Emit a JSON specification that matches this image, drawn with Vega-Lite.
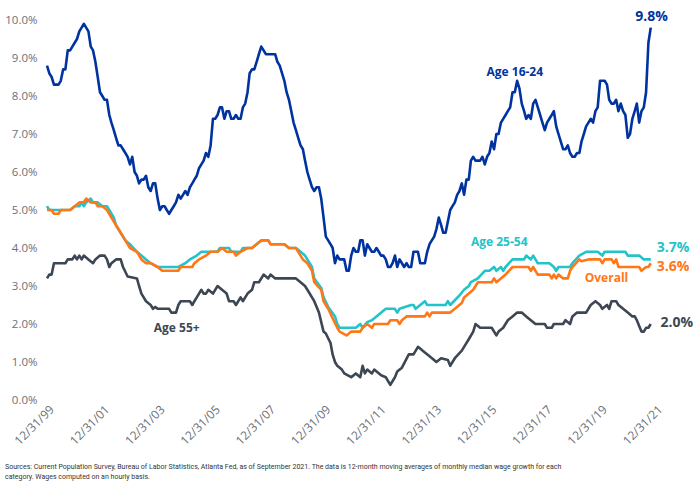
{
  "$schema": "https://vega.github.io/schema/vega-lite/v6.json",
  "width": 613,
  "height": 380,
  "autosize": {"type": "none"},
  "padding": {"left": 47, "top": 20, "right": 40, "bottom": 96},
  "background": "white",
  "config": {"view": {"stroke": null}, "font": "Open Sans"},
  "title": {
    "text": ["Sources: Current Population Survey, Bureau of Labor Statistics, Atlanta Fed, as of September 2021. The data is 12-month moving averages of monthly median wage growth for each", "category. Wages computed on an hourly basis."],
    "orient": "bottom",
    "anchor": "start",
    "frame": "group",
    "font": "Roboto",
    "fontSize": 7,
    "fontWeight": "normal",
    "color": "#333333",
    "lineHeight": 10,
    "dx": -42,
    "offset": 16
  },
  "datasets": {
    "series": [
      {"series":"Age 16-24","date":"1999-11-01","value":8.8},{"series":"Age 16-24","date":"1999-12-01","value":8.6},{"series":"Age 16-24","date":"2000-01-01","value":8.5},{"series":"Age 16-24","date":"2000-02-01","value":8.3},{"series":"Age 16-24","date":"2000-04-01","value":8.3},{"series":"Age 16-24","date":"2000-05-01","value":8.4},{"series":"Age 16-24","date":"2000-06-01","value":8.7},{"series":"Age 16-24","date":"2000-07-01","value":8.7},{"series":"Age 16-24","date":"2000-08-01","value":9.2},{"series":"Age 16-24","date":"2000-09-01","value":9.2},{"series":"Age 16-24","date":"2000-10-01","value":9.3},{"series":"Age 16-24","date":"2000-11-01","value":9.4},{"series":"Age 16-24","date":"2000-12-01","value":9.5},
      {"series":"Age 16-24","date":"2001-01-01","value":9.7},{"series":"Age 16-24","date":"2001-03-01","value":9.9},{"series":"Age 16-24","date":"2001-04-01","value":9.8},{"series":"Age 16-24","date":"2001-05-01","value":9.7},{"series":"Age 16-24","date":"2001-06-01","value":9.3},{"series":"Age 16-24","date":"2001-07-01","value":9.2},{"series":"Age 16-24","date":"2001-08-01","value":8.9},{"series":"Age 16-24","date":"2001-09-01","value":8.5},{"series":"Age 16-24","date":"2001-10-01","value":8.1},{"series":"Age 16-24","date":"2001-11-01","value":8.0},{"series":"Age 16-24","date":"2001-12-01","value":7.9},
      {"series":"Age 16-24","date":"2002-01-01","value":7.9},{"series":"Age 16-24","date":"2002-02-01","value":7.5},{"series":"Age 16-24","date":"2002-03-01","value":7.3},{"series":"Age 16-24","date":"2002-04-01","value":7.1},{"series":"Age 16-24","date":"2002-05-01","value":6.9},{"series":"Age 16-24","date":"2002-06-01","value":6.7},{"series":"Age 16-24","date":"2002-07-01","value":6.7},{"series":"Age 16-24","date":"2002-08-01","value":6.6},{"series":"Age 16-24","date":"2002-09-01","value":6.5},{"series":"Age 16-24","date":"2002-10-01","value":6.4},{"series":"Age 16-24","date":"2002-11-01","value":6.2},{"series":"Age 16-24","date":"2002-12-01","value":6.4},
      {"series":"Age 16-24","date":"2003-01-01","value":6.0},{"series":"Age 16-24","date":"2003-02-01","value":5.9},{"series":"Age 16-24","date":"2003-03-01","value":5.7},{"series":"Age 16-24","date":"2003-04-01","value":5.8},{"series":"Age 16-24","date":"2003-05-01","value":5.8},{"series":"Age 16-24","date":"2003-06-01","value":5.9},{"series":"Age 16-24","date":"2003-07-01","value":5.6},{"series":"Age 16-24","date":"2003-08-01","value":5.5},{"series":"Age 16-24","date":"2003-09-01","value":5.7},{"series":"Age 16-24","date":"2003-10-01","value":5.7},{"series":"Age 16-24","date":"2003-11-01","value":5.3},{"series":"Age 16-24","date":"2003-12-01","value":5.0},
      {"series":"Age 16-24","date":"2004-01-01","value":5.1},{"series":"Age 16-24","date":"2004-02-01","value":5.1},{"series":"Age 16-24","date":"2004-03-01","value":5.0},{"series":"Age 16-24","date":"2004-04-01","value":4.9},{"series":"Age 16-24","date":"2004-05-01","value":5.0},{"series":"Age 16-24","date":"2004-06-01","value":5.1},{"series":"Age 16-24","date":"2004-07-01","value":5.2},{"series":"Age 16-24","date":"2004-08-01","value":5.4},{"series":"Age 16-24","date":"2004-09-01","value":5.3},{"series":"Age 16-24","date":"2004-10-01","value":5.4},{"series":"Age 16-24","date":"2004-11-01","value":5.5},{"series":"Age 16-24","date":"2004-12-01","value":5.4},
      {"series":"Age 16-24","date":"2005-01-01","value":5.6},{"series":"Age 16-24","date":"2005-02-01","value":5.7},{"series":"Age 16-24","date":"2005-03-01","value":5.8},{"series":"Age 16-24","date":"2005-04-01","value":5.9},{"series":"Age 16-24","date":"2005-05-01","value":6.1},{"series":"Age 16-24","date":"2005-06-01","value":6.2},{"series":"Age 16-24","date":"2005-07-01","value":6.3},{"series":"Age 16-24","date":"2005-08-01","value":6.5},{"series":"Age 16-24","date":"2005-09-01","value":6.4},{"series":"Age 16-24","date":"2005-10-01","value":6.7},{"series":"Age 16-24","date":"2005-11-01","value":7.4},{"series":"Age 16-24","date":"2005-12-01","value":7.4},
      {"series":"Age 16-24","date":"2006-01-01","value":7.5},{"series":"Age 16-24","date":"2006-02-01","value":7.7},{"series":"Age 16-24","date":"2006-03-01","value":7.7},{"series":"Age 16-24","date":"2006-04-01","value":7.4},{"series":"Age 16-24","date":"2006-05-01","value":7.6},{"series":"Age 16-24","date":"2006-06-01","value":7.6},{"series":"Age 16-24","date":"2006-07-01","value":7.4},{"series":"Age 16-24","date":"2006-08-01","value":7.4},{"series":"Age 16-24","date":"2006-09-01","value":7.5},{"series":"Age 16-24","date":"2006-10-01","value":7.4},{"series":"Age 16-24","date":"2006-11-01","value":7.4},{"series":"Age 16-24","date":"2006-12-01","value":7.7},
      {"series":"Age 16-24","date":"2007-01-01","value":7.8},{"series":"Age 16-24","date":"2007-02-01","value":8.1},{"series":"Age 16-24","date":"2007-03-01","value":8.6},{"series":"Age 16-24","date":"2007-04-01","value":8.7},{"series":"Age 16-24","date":"2007-05-01","value":8.7},{"series":"Age 16-24","date":"2007-06-01","value":8.9},{"series":"Age 16-24","date":"2007-07-01","value":9.1},{"series":"Age 16-24","date":"2007-08-01","value":9.3},{"series":"Age 16-24","date":"2007-09-01","value":9.2},{"series":"Age 16-24","date":"2007-10-01","value":9.1},
      {"series":"Age 16-24","date":"2008-02-01","value":9.1},{"series":"Age 16-24","date":"2008-03-01","value":8.9},{"series":"Age 16-24","date":"2008-04-01","value":8.8},{"series":"Age 16-24","date":"2008-05-01","value":8.6},{"series":"Age 16-24","date":"2008-06-01","value":8.4},{"series":"Age 16-24","date":"2008-07-01","value":8.1},{"series":"Age 16-24","date":"2008-08-01","value":7.9},{"series":"Age 16-24","date":"2008-09-01","value":7.6},{"series":"Age 16-24","date":"2008-10-01","value":7.3},{"series":"Age 16-24","date":"2008-11-01","value":7.1},{"series":"Age 16-24","date":"2008-12-01","value":6.9},
      {"series":"Age 16-24","date":"2009-01-01","value":6.7},{"series":"Age 16-24","date":"2009-02-01","value":6.6},{"series":"Age 16-24","date":"2009-03-01","value":6.3},{"series":"Age 16-24","date":"2009-04-01","value":6.0},{"series":"Age 16-24","date":"2009-05-01","value":5.8},{"series":"Age 16-24","date":"2009-06-01","value":5.6},{"series":"Age 16-24","date":"2009-07-01","value":5.5},{"series":"Age 16-24","date":"2009-08-01","value":5.6},{"series":"Age 16-24","date":"2009-09-01","value":5.6},{"series":"Age 16-24","date":"2009-10-01","value":5.3},{"series":"Age 16-24","date":"2009-11-01","value":4.8},{"series":"Age 16-24","date":"2009-12-01","value":4.3},
      {"series":"Age 16-24","date":"2010-01-01","value":4.2},{"series":"Age 16-24","date":"2010-02-01","value":4.1},{"series":"Age 16-24","date":"2010-03-01","value":4.0},{"series":"Age 16-24","date":"2010-04-01","value":3.6},{"series":"Age 16-24","date":"2010-05-01","value":3.8},{"series":"Age 16-24","date":"2010-06-01","value":3.7},{"series":"Age 16-24","date":"2010-07-01","value":3.7},{"series":"Age 16-24","date":"2010-08-01","value":3.7},{"series":"Age 16-24","date":"2010-09-01","value":3.4},{"series":"Age 16-24","date":"2010-10-01","value":3.4},{"series":"Age 16-24","date":"2010-11-01","value":3.8},{"series":"Age 16-24","date":"2010-12-01","value":4.0},
      {"series":"Age 16-24","date":"2011-01-01","value":3.9},{"series":"Age 16-24","date":"2011-02-01","value":3.9},{"series":"Age 16-24","date":"2011-03-01","value":4.2},{"series":"Age 16-24","date":"2011-04-01","value":4.2},{"series":"Age 16-24","date":"2011-05-01","value":3.8},{"series":"Age 16-24","date":"2011-06-01","value":4.1},{"series":"Age 16-24","date":"2011-07-01","value":4.0},{"series":"Age 16-24","date":"2011-08-01","value":3.9},{"series":"Age 16-24","date":"2011-09-01","value":3.9},{"series":"Age 16-24","date":"2011-10-01","value":4.0},{"series":"Age 16-24","date":"2011-11-01","value":3.9},{"series":"Age 16-24","date":"2011-12-01","value":3.8},
      {"series":"Age 16-24","date":"2012-01-01","value":3.8},{"series":"Age 16-24","date":"2012-02-01","value":3.7},{"series":"Age 16-24","date":"2012-03-01","value":3.5},{"series":"Age 16-24","date":"2012-04-01","value":3.5},{"series":"Age 16-24","date":"2012-05-01","value":3.6},{"series":"Age 16-24","date":"2012-06-01","value":3.8},{"series":"Age 16-24","date":"2012-07-01","value":3.5},{"series":"Age 16-24","date":"2012-08-01","value":3.7},{"series":"Age 16-24","date":"2012-09-01","value":3.6},{"series":"Age 16-24","date":"2012-10-01","value":3.5},{"series":"Age 16-24","date":"2012-11-01","value":3.6},{"series":"Age 16-24","date":"2012-12-01","value":3.5},
      {"series":"Age 16-24","date":"2013-01-01","value":3.5},{"series":"Age 16-24","date":"2013-02-01","value":3.9},{"series":"Age 16-24","date":"2013-03-01","value":3.9},{"series":"Age 16-24","date":"2013-04-01","value":3.9},{"series":"Age 16-24","date":"2013-05-01","value":3.6},{"series":"Age 16-24","date":"2013-06-01","value":3.6},{"series":"Age 16-24","date":"2013-07-01","value":3.6},{"series":"Age 16-24","date":"2013-08-01","value":3.9},{"series":"Age 16-24","date":"2013-09-01","value":4.1},{"series":"Age 16-24","date":"2013-10-01","value":4.2},{"series":"Age 16-24","date":"2013-11-01","value":4.3},{"series":"Age 16-24","date":"2013-12-01","value":4.5},
      {"series":"Age 16-24","date":"2014-01-01","value":4.8},{"series":"Age 16-24","date":"2014-02-01","value":4.6},{"series":"Age 16-24","date":"2014-03-01","value":4.4},{"series":"Age 16-24","date":"2014-04-01","value":4.4},{"series":"Age 16-24","date":"2014-05-01","value":4.7},{"series":"Age 16-24","date":"2014-06-01","value":5.0},{"series":"Age 16-24","date":"2014-07-01","value":5.1},{"series":"Age 16-24","date":"2014-08-01","value":5.2},{"series":"Age 16-24","date":"2014-09-01","value":5.4},{"series":"Age 16-24","date":"2014-10-01","value":5.5},{"series":"Age 16-24","date":"2014-11-01","value":5.7},{"series":"Age 16-24","date":"2014-12-01","value":5.4},
      {"series":"Age 16-24","date":"2015-01-01","value":5.8},{"series":"Age 16-24","date":"2015-02-01","value":5.8},{"series":"Age 16-24","date":"2015-03-01","value":6.3},{"series":"Age 16-24","date":"2015-04-01","value":6.4},{"series":"Age 16-24","date":"2015-05-01","value":6.3},{"series":"Age 16-24","date":"2015-06-01","value":6.3},{"series":"Age 16-24","date":"2015-07-01","value":6.3},{"series":"Age 16-24","date":"2015-08-01","value":6.4},{"series":"Age 16-24","date":"2015-09-01","value":6.2},{"series":"Age 16-24","date":"2015-10-01","value":6.4},{"series":"Age 16-24","date":"2015-11-01","value":6.5},{"series":"Age 16-24","date":"2015-12-01","value":6.8},
      {"series":"Age 16-24","date":"2016-01-01","value":6.6},{"series":"Age 16-24","date":"2016-02-01","value":7.0},{"series":"Age 16-24","date":"2016-03-01","value":7.0},{"series":"Age 16-24","date":"2016-04-01","value":7.3},{"series":"Age 16-24","date":"2016-05-01","value":7.4},{"series":"Age 16-24","date":"2016-06-01","value":7.5},{"series":"Age 16-24","date":"2016-07-01","value":7.6},{"series":"Age 16-24","date":"2016-08-01","value":7.7},{"series":"Age 16-24","date":"2016-09-01","value":8.1},{"series":"Age 16-24","date":"2016-10-01","value":8.1},{"series":"Age 16-24","date":"2016-11-01","value":8.4},{"series":"Age 16-24","date":"2016-12-01","value":8.2},
      {"series":"Age 16-24","date":"2017-01-01","value":7.8},{"series":"Age 16-24","date":"2017-02-01","value":7.6},{"series":"Age 16-24","date":"2017-03-01","value":7.4},{"series":"Age 16-24","date":"2017-04-01","value":7.5},{"series":"Age 16-24","date":"2017-05-01","value":7.4},{"series":"Age 16-24","date":"2017-06-01","value":7.8},{"series":"Age 16-24","date":"2017-07-01","value":7.9},{"series":"Age 16-24","date":"2017-08-01","value":7.7},{"series":"Age 16-24","date":"2017-09-01","value":7.5},{"series":"Age 16-24","date":"2017-10-01","value":7.3},{"series":"Age 16-24","date":"2017-11-01","value":7.1},{"series":"Age 16-24","date":"2017-12-01","value":7.3},
      {"series":"Age 16-24","date":"2018-01-01","value":7.4},{"series":"Age 16-24","date":"2018-02-01","value":7.5},{"series":"Age 16-24","date":"2018-03-01","value":7.6},{"series":"Age 16-24","date":"2018-04-01","value":7.2},{"series":"Age 16-24","date":"2018-05-01","value":7.0},{"series":"Age 16-24","date":"2018-06-01","value":6.8},{"series":"Age 16-24","date":"2018-07-01","value":6.6},{"series":"Age 16-24","date":"2018-08-01","value":6.6},{"series":"Age 16-24","date":"2018-09-01","value":6.7},{"series":"Age 16-24","date":"2018-10-01","value":6.5},{"series":"Age 16-24","date":"2018-11-01","value":6.4},{"series":"Age 16-24","date":"2018-12-01","value":6.4},
      {"series":"Age 16-24","date":"2019-01-01","value":6.5},{"series":"Age 16-24","date":"2019-02-01","value":6.5},{"series":"Age 16-24","date":"2019-03-01","value":6.8},{"series":"Age 16-24","date":"2019-04-01","value":7.0},{"series":"Age 16-24","date":"2019-05-01","value":7.2},{"series":"Age 16-24","date":"2019-06-01","value":7.3},{"series":"Age 16-24","date":"2019-07-01","value":7.4},{"series":"Age 16-24","date":"2019-08-01","value":7.3},{"series":"Age 16-24","date":"2019-09-01","value":7.6},{"series":"Age 16-24","date":"2019-10-01","value":7.7},{"series":"Age 16-24","date":"2019-11-01","value":8.4},{"series":"Age 16-24","date":"2019-12-01","value":8.4},
      {"series":"Age 16-24","date":"2020-01-01","value":8.4},{"series":"Age 16-24","date":"2020-02-01","value":8.3},{"series":"Age 16-24","date":"2020-03-01","value":7.9},{"series":"Age 16-24","date":"2020-04-01","value":7.8},{"series":"Age 16-24","date":"2020-05-01","value":7.8},{"series":"Age 16-24","date":"2020-06-01","value":7.9},{"series":"Age 16-24","date":"2020-07-01","value":7.6},{"series":"Age 16-24","date":"2020-08-01","value":7.8},{"series":"Age 16-24","date":"2020-09-01","value":7.6},{"series":"Age 16-24","date":"2020-10-01","value":7.5},{"series":"Age 16-24","date":"2020-11-01","value":6.9},{"series":"Age 16-24","date":"2020-12-01","value":7.0},
      {"series":"Age 16-24","date":"2021-01-01","value":7.4},{"series":"Age 16-24","date":"2021-02-01","value":7.6},{"series":"Age 16-24","date":"2021-03-01","value":7.8},{"series":"Age 16-24","date":"2021-04-01","value":7.3},{"series":"Age 16-24","date":"2021-05-01","value":7.6},{"series":"Age 16-24","date":"2021-06-01","value":7.7},{"series":"Age 16-24","date":"2021-07-01","value":8.1},{"series":"Age 16-24","date":"2021-08-01","value":9.4},{"series":"Age 16-24","date":"2021-09-01","value":9.8},

      {"series":"Age 25-54","date":"1999-11-01","value":5.1},{"series":"Age 25-54","date":"1999-12-01","value":5.0},{"series":"Age 25-54","date":"2000-04-01","value":5.0},{"series":"Age 25-54","date":"2000-09-01","value":5.0},{"series":"Age 25-54","date":"2000-11-01","value":5.1},{"series":"Age 25-54","date":"2001-01-01","value":5.1},{"series":"Age 25-54","date":"2001-02-01","value":5.2},{"series":"Age 25-54","date":"2001-03-01","value":5.1},{"series":"Age 25-54","date":"2001-04-01","value":5.2},{"series":"Age 25-54","date":"2001-06-01","value":5.3},{"series":"Age 25-54","date":"2001-07-01","value":5.2},{"series":"Age 25-54","date":"2001-09-01","value":5.2},{"series":"Age 25-54","date":"2001-11-01","value":5.1},{"series":"Age 25-54","date":"2002-01-01","value":5.1},{"series":"Age 25-54","date":"2002-02-01","value":5.0},{"series":"Age 25-54","date":"2002-04-01","value":4.8},{"series":"Age 25-54","date":"2002-05-01","value":4.6},{"series":"Age 25-54","date":"2002-07-01","value":4.4},{"series":"Age 25-54","date":"2002-09-01","value":4.2},{"series":"Age 25-54","date":"2002-11-01","value":4.1},{"series":"Age 25-54","date":"2003-02-01","value":3.9},{"series":"Age 25-54","date":"2003-04-01","value":3.8},{"series":"Age 25-54","date":"2003-06-01","value":3.7},{"series":"Age 25-54","date":"2003-08-01","value":3.6},{"series":"Age 25-54","date":"2003-11-01","value":3.5},{"series":"Age 25-54","date":"2004-08-01","value":3.5},{"series":"Age 25-54","date":"2004-11-01","value":3.6},{"series":"Age 25-54","date":"2005-01-01","value":3.7},{"series":"Age 25-54","date":"2005-04-01","value":3.8},{"series":"Age 25-54","date":"2005-06-01","value":3.9},{"series":"Age 25-54","date":"2006-01-01","value":3.9},{"series":"Age 25-54","date":"2006-02-01","value":4.0},{"series":"Age 25-54","date":"2006-06-01","value":4.0},{"series":"Age 25-54","date":"2006-07-01","value":3.9},{"series":"Age 25-54","date":"2006-11-01","value":3.9},{"series":"Age 25-54","date":"2006-12-01","value":4.0},{"series":"Age 25-54","date":"2007-04-01","value":4.0},{"series":"Age 25-54","date":"2007-06-01","value":4.1},{"series":"Age 25-54","date":"2007-08-01","value":4.2},{"series":"Age 25-54","date":"2007-11-01","value":4.2},{"series":"Age 25-54","date":"2007-12-01","value":4.1},{"series":"Age 25-54","date":"2008-06-01","value":4.1},{"series":"Age 25-54","date":"2008-08-01","value":4.0},{"series":"Age 25-54","date":"2008-11-01","value":4.0},{"series":"Age 25-54","date":"2009-01-01","value":3.9},{"series":"Age 25-54","date":"2009-03-01","value":3.8},{"series":"Age 25-54","date":"2009-04-01","value":3.7},{"series":"Age 25-54","date":"2009-06-01","value":3.5},{"series":"Age 25-54","date":"2009-07-01","value":3.2},{"series":"Age 25-54","date":"2009-10-01","value":2.95},{"series":"Age 25-54","date":"2009-11-01","value":2.7},{"series":"Age 25-54","date":"2010-01-01","value":2.45},{"series":"Age 25-54","date":"2010-04-01","value":2.2},{"series":"Age 25-54","date":"2010-05-01","value":2.0},{"series":"Age 25-54","date":"2010-06-01","value":1.9},{"series":"Age 25-54","date":"2010-09-01","value":1.9},{"series":"Age 25-54","date":"2011-01-01","value":1.9},{"series":"Age 25-54","date":"2011-03-01","value":2.0},{"series":"Age 25-54","date":"2011-04-01","value":1.9},{"series":"Age 25-54","date":"2011-06-01","value":2.05},{"series":"Age 25-54","date":"2011-08-01","value":2.1},{"series":"Age 25-54","date":"2011-10-01","value":2.2},{"series":"Age 25-54","date":"2012-02-01","value":2.4},{"series":"Age 25-54","date":"2012-06-01","value":2.4},{"series":"Age 25-54","date":"2012-07-01","value":2.3},{"series":"Age 25-54","date":"2012-08-01","value":2.4},{"series":"Age 25-54","date":"2013-01-01","value":2.5},{"series":"Age 25-54","date":"2013-02-01","value":2.5},{"series":"Age 25-54","date":"2013-03-01","value":2.4},{"series":"Age 25-54","date":"2013-07-01","value":2.6},{"series":"Age 25-54","date":"2013-08-01","value":2.5},{"series":"Age 25-54","date":"2014-04-01","value":2.5},{"series":"Age 25-54","date":"2014-05-01","value":2.6},{"series":"Age 25-54","date":"2014-06-01","value":2.5},{"series":"Age 25-54","date":"2014-10-01","value":2.75},{"series":"Age 25-54","date":"2014-12-01","value":2.9},{"series":"Age 25-54","date":"2015-02-01","value":3.0},{"series":"Age 25-54","date":"2015-03-01","value":3.1},{"series":"Age 25-54","date":"2015-06-01","value":3.2},{"series":"Age 25-54","date":"2015-09-01","value":3.4},{"series":"Age 25-54","date":"2015-11-01","value":3.4},{"series":"Age 25-54","date":"2016-01-01","value":3.5},{"series":"Age 25-54","date":"2016-02-01","value":3.4},{"series":"Age 25-54","date":"2016-04-01","value":3.5},{"series":"Age 25-54","date":"2016-05-01","value":3.4},{"series":"Age 25-54","date":"2016-06-01","value":3.5},{"series":"Age 25-54","date":"2016-09-01","value":3.7},{"series":"Age 25-54","date":"2017-02-01","value":3.7},{"series":"Age 25-54","date":"2017-03-01","value":3.8},{"series":"Age 25-54","date":"2017-05-01","value":3.7},{"series":"Age 25-54","date":"2017-06-01","value":3.8},{"series":"Age 25-54","date":"2017-07-01","value":3.7},{"series":"Age 25-54","date":"2017-08-01","value":3.6},{"series":"Age 25-54","date":"2018-01-01","value":3.6},{"series":"Age 25-54","date":"2018-03-01","value":3.5},{"series":"Age 25-54","date":"2018-04-01","value":3.4},{"series":"Age 25-54","date":"2018-05-01","value":3.5},{"series":"Age 25-54","date":"2018-10-01","value":3.5},{"series":"Age 25-54","date":"2018-11-01","value":3.6},{"series":"Age 25-54","date":"2019-02-01","value":3.8},{"series":"Age 25-54","date":"2019-05-01","value":3.9},{"series":"Age 25-54","date":"2019-10-01","value":3.9},{"series":"Age 25-54","date":"2019-12-01","value":3.8},{"series":"Age 25-54","date":"2020-01-01","value":3.9},{"series":"Age 25-54","date":"2020-10-01","value":3.9},{"series":"Age 25-54","date":"2020-11-01","value":3.8},{"series":"Age 25-54","date":"2021-04-01","value":3.8},{"series":"Age 25-54","date":"2021-06-01","value":3.7},{"series":"Age 25-54","date":"2021-09-01","value":3.7},

      {"series":"Overall","date":"1999-11-01","value":5.0},{"series":"Overall","date":"2000-01-01","value":5.0},{"series":"Overall","date":"2000-02-01","value":4.9},{"series":"Overall","date":"2000-04-01","value":4.9},{"series":"Overall","date":"2000-05-01","value":5.0},{"series":"Overall","date":"2000-09-01","value":5.0},{"series":"Overall","date":"2000-11-01","value":5.1},{"series":"Overall","date":"2001-01-01","value":5.2},{"series":"Overall","date":"2001-03-01","value":5.2},{"series":"Overall","date":"2001-04-01","value":5.3},{"series":"Overall","date":"2001-06-01","value":5.2},{"series":"Overall","date":"2001-08-01","value":5.2},{"series":"Overall","date":"2001-09-01","value":5.1},{"series":"Overall","date":"2001-11-01","value":5.1},{"series":"Overall","date":"2002-01-01","value":5.0},{"series":"Overall","date":"2002-03-01","value":4.8},{"series":"Overall","date":"2002-05-01","value":4.6},{"series":"Overall","date":"2002-07-01","value":4.4},{"series":"Overall","date":"2002-09-01","value":4.2},{"series":"Overall","date":"2002-11-01","value":4.0},{"series":"Overall","date":"2003-02-01","value":3.9},{"series":"Overall","date":"2003-04-01","value":3.7},{"series":"Overall","date":"2003-06-01","value":3.6},{"series":"Overall","date":"2003-08-01","value":3.6},{"series":"Overall","date":"2003-11-01","value":3.5},{"series":"Overall","date":"2004-01-01","value":3.4},{"series":"Overall","date":"2004-08-01","value":3.4},{"series":"Overall","date":"2004-09-01","value":3.5},{"series":"Overall","date":"2005-02-01","value":3.5},{"series":"Overall","date":"2005-03-01","value":3.6},{"series":"Overall","date":"2005-05-01","value":3.7},{"series":"Overall","date":"2005-08-01","value":3.8},{"series":"Overall","date":"2005-10-01","value":3.9},{"series":"Overall","date":"2006-01-01","value":3.9},{"series":"Overall","date":"2006-03-01","value":4.0},{"series":"Overall","date":"2006-05-01","value":3.9},{"series":"Overall","date":"2006-08-01","value":3.9},{"series":"Overall","date":"2006-09-01","value":3.8},{"series":"Overall","date":"2006-11-01","value":3.9},{"series":"Overall","date":"2007-02-01","value":4.0},{"series":"Overall","date":"2007-04-01","value":4.0},{"series":"Overall","date":"2007-06-01","value":4.1},{"series":"Overall","date":"2007-08-01","value":4.2},{"series":"Overall","date":"2007-11-01","value":4.2},{"series":"Overall","date":"2007-12-01","value":4.1},{"series":"Overall","date":"2008-06-01","value":4.1},{"series":"Overall","date":"2008-08-01","value":4.0},{"series":"Overall","date":"2008-11-01","value":4.0},{"series":"Overall","date":"2009-01-01","value":3.8},{"series":"Overall","date":"2009-02-01","value":3.7},{"series":"Overall","date":"2009-04-01","value":3.6},{"series":"Overall","date":"2009-06-01","value":3.4},{"series":"Overall","date":"2009-07-01","value":3.1},{"series":"Overall","date":"2009-10-01","value":2.9},{"series":"Overall","date":"2009-11-01","value":2.6},{"series":"Overall","date":"2010-01-01","value":2.4},{"series":"Overall","date":"2010-03-01","value":2.15},{"series":"Overall","date":"2010-05-01","value":1.9},{"series":"Overall","date":"2010-06-01","value":1.8},{"series":"Overall","date":"2010-09-01","value":1.7},{"series":"Overall","date":"2010-11-01","value":1.8},{"series":"Overall","date":"2011-03-01","value":1.8},{"series":"Overall","date":"2011-04-01","value":1.9},{"series":"Overall","date":"2011-06-01","value":2.0},{"series":"Overall","date":"2011-08-01","value":1.9},{"series":"Overall","date":"2011-09-01","value":2.0},{"series":"Overall","date":"2012-03-01","value":2.0},{"series":"Overall","date":"2012-04-01","value":2.1},{"series":"Overall","date":"2012-07-01","value":2.1},{"series":"Overall","date":"2012-08-01","value":2.0},{"series":"Overall","date":"2012-09-01","value":2.1},{"series":"Overall","date":"2012-11-01","value":2.2},{"series":"Overall","date":"2013-07-01","value":2.2},{"series":"Overall","date":"2013-08-01","value":2.3},{"series":"Overall","date":"2013-09-01","value":2.2},{"series":"Overall","date":"2013-10-01","value":2.3},{"series":"Overall","date":"2014-06-01","value":2.3},{"series":"Overall","date":"2014-08-01","value":2.4},{"series":"Overall","date":"2014-11-01","value":2.55},{"series":"Overall","date":"2014-12-01","value":2.7},{"series":"Overall","date":"2015-02-01","value":2.8},{"series":"Overall","date":"2015-04-01","value":2.9},{"series":"Overall","date":"2015-06-01","value":3.1},{"series":"Overall","date":"2015-12-01","value":3.1},{"series":"Overall","date":"2016-01-01","value":3.2},{"series":"Overall","date":"2016-02-01","value":3.1},{"series":"Overall","date":"2016-04-01","value":3.2},{"series":"Overall","date":"2016-06-01","value":3.3},{"series":"Overall","date":"2016-09-01","value":3.5},{"series":"Overall","date":"2017-04-01","value":3.5},{"series":"Overall","date":"2017-05-01","value":3.4},{"series":"Overall","date":"2017-06-01","value":3.5},{"series":"Overall","date":"2017-08-01","value":3.3},{"series":"Overall","date":"2018-01-01","value":3.3},{"series":"Overall","date":"2018-02-01","value":3.2},{"series":"Overall","date":"2018-03-01","value":3.3},{"series":"Overall","date":"2018-04-01","value":3.2},{"series":"Overall","date":"2018-05-01","value":3.3},{"series":"Overall","date":"2018-07-01","value":3.2},{"series":"Overall","date":"2018-09-01","value":3.2},{"series":"Overall","date":"2018-10-01","value":3.4},{"series":"Overall","date":"2018-11-01","value":3.5},{"series":"Overall","date":"2019-02-01","value":3.7},{"series":"Overall","date":"2019-03-01","value":3.65},{"series":"Overall","date":"2019-06-01","value":3.7},{"series":"Overall","date":"2019-11-01","value":3.7},{"series":"Overall","date":"2019-12-01","value":3.6},{"series":"Overall","date":"2020-01-01","value":3.7},{"series":"Overall","date":"2020-04-01","value":3.7},{"series":"Overall","date":"2020-05-01","value":3.6},{"series":"Overall","date":"2020-06-01","value":3.7},{"series":"Overall","date":"2020-07-01","value":3.5},{"series":"Overall","date":"2020-12-01","value":3.5},{"series":"Overall","date":"2021-04-01","value":3.5},{"series":"Overall","date":"2021-05-01","value":3.4},{"series":"Overall","date":"2021-07-01","value":3.5},{"series":"Overall","date":"2021-08-01","value":3.5},{"series":"Overall","date":"2021-09-01","value":3.6},

      {"series":"Age 55+","date":"1999-11-01","value":3.2},{"series":"Age 55+","date":"1999-12-01","value":3.3},{"series":"Age 55+","date":"2000-01-01","value":3.3},{"series":"Age 55+","date":"2000-02-01","value":3.6},{"series":"Age 55+","date":"2000-07-01","value":3.6},{"series":"Age 55+","date":"2000-08-01","value":3.7},{"series":"Age 55+","date":"2000-10-01","value":3.7},{"series":"Age 55+","date":"2000-11-01","value":3.8},{"series":"Age 55+","date":"2000-12-01","value":3.7},{"series":"Age 55+","date":"2001-01-01","value":3.8},{"series":"Age 55+","date":"2001-02-01","value":3.7},{"series":"Age 55+","date":"2001-03-01","value":3.8},{"series":"Age 55+","date":"2001-05-01","value":3.7},{"series":"Age 55+","date":"2001-07-01","value":3.6},{"series":"Age 55+","date":"2001-08-01","value":3.7},{"series":"Age 55+","date":"2001-10-01","value":3.8},{"series":"Age 55+","date":"2001-12-01","value":3.8},{"series":"Age 55+","date":"2002-01-01","value":3.7},{"series":"Age 55+","date":"2002-02-01","value":3.5},{"series":"Age 55+","date":"2002-03-01","value":3.6},{"series":"Age 55+","date":"2002-05-01","value":3.7},{"series":"Age 55+","date":"2002-07-01","value":3.7},{"series":"Age 55+","date":"2002-08-01","value":3.5},{"series":"Age 55+","date":"2002-10-01","value":3.25},{"series":"Age 55+","date":"2003-02-01","value":3.2},{"series":"Age 55+","date":"2003-03-01","value":3.0},{"series":"Age 55+","date":"2003-04-01","value":2.8},{"series":"Age 55+","date":"2003-06-01","value":2.6},{"series":"Age 55+","date":"2003-08-01","value":2.5},{"series":"Age 55+","date":"2003-09-01","value":2.4},{"series":"Age 55+","date":"2003-10-01","value":2.45},{"series":"Age 55+","date":"2003-11-01","value":2.4},{"series":"Age 55+","date":"2004-04-01","value":2.4},{"series":"Age 55+","date":"2004-05-01","value":2.3},{"series":"Age 55+","date":"2004-07-01","value":2.3},{"series":"Age 55+","date":"2004-08-01","value":2.5},{"series":"Age 55+","date":"2004-09-01","value":2.6},{"series":"Age 55+","date":"2005-01-01","value":2.6},{"series":"Age 55+","date":"2005-02-01","value":2.5},{"series":"Age 55+","date":"2005-03-01","value":2.6},{"series":"Age 55+","date":"2005-04-01","value":2.7},{"series":"Age 55+","date":"2005-06-01","value":2.9},{"series":"Age 55+","date":"2005-07-01","value":2.8},{"series":"Age 55+","date":"2005-08-01","value":2.8},{"series":"Age 55+","date":"2005-09-01","value":2.9},{"series":"Age 55+","date":"2005-11-01","value":2.8},{"series":"Age 55+","date":"2006-01-01","value":3.0},{"series":"Age 55+","date":"2006-03-01","value":2.9},{"series":"Age 55+","date":"2006-05-01","value":2.8},{"series":"Age 55+","date":"2006-06-01","value":2.6},{"series":"Age 55+","date":"2006-08-01","value":2.6},{"series":"Age 55+","date":"2006-09-01","value":2.5},{"series":"Age 55+","date":"2006-11-01","value":2.7},{"series":"Age 55+","date":"2006-12-01","value":2.6},{"series":"Age 55+","date":"2007-02-01","value":2.8},{"series":"Age 55+","date":"2007-04-01","value":2.9},{"series":"Age 55+","date":"2007-05-01","value":3.1},{"series":"Age 55+","date":"2007-07-01","value":3.1},{"series":"Age 55+","date":"2007-09-01","value":3.3},{"series":"Age 55+","date":"2007-11-01","value":3.2},{"series":"Age 55+","date":"2007-12-01","value":3.3},{"series":"Age 55+","date":"2008-02-01","value":3.2},{"series":"Age 55+","date":"2008-06-01","value":3.2},{"series":"Age 55+","date":"2008-07-01","value":3.2},{"series":"Age 55+","date":"2008-11-01","value":3.2},{"series":"Age 55+","date":"2009-01-01","value":3.1},{"series":"Age 55+","date":"2009-03-01","value":3.0},{"series":"Age 55+","date":"2009-04-01","value":2.9},{"series":"Age 55+","date":"2009-07-01","value":2.6},{"series":"Age 55+","date":"2009-09-01","value":2.3},{"series":"Age 55+","date":"2009-11-01","value":1.8},{"series":"Age 55+","date":"2009-12-01","value":1.75},{"series":"Age 55+","date":"2010-02-01","value":1.5},{"series":"Age 55+","date":"2010-03-01","value":1.2},{"series":"Age 55+","date":"2010-04-01","value":1.0},{"series":"Age 55+","date":"2010-05-01","value":0.9},{"series":"Age 55+","date":"2010-07-01","value":0.8},{"series":"Age 55+","date":"2010-08-01","value":0.7},{"series":"Age 55+","date":"2010-11-01","value":0.6},{"series":"Age 55+","date":"2011-01-01","value":0.7},{"series":"Age 55+","date":"2011-03-01","value":0.6},{"series":"Age 55+","date":"2011-04-01","value":0.9},{"series":"Age 55+","date":"2011-05-01","value":0.7},{"series":"Age 55+","date":"2011-06-01","value":0.8},{"series":"Age 55+","date":"2011-08-01","value":0.7},{"series":"Age 55+","date":"2011-09-01","value":0.8},{"series":"Age 55+","date":"2011-12-01","value":0.65},{"series":"Age 55+","date":"2012-02-01","value":0.6},{"series":"Age 55+","date":"2012-03-01","value":0.5},{"series":"Age 55+","date":"2012-04-01","value":0.4},{"series":"Age 55+","date":"2012-06-01","value":0.6},{"series":"Age 55+","date":"2012-07-01","value":0.75},{"series":"Age 55+","date":"2012-09-01","value":0.85},{"series":"Age 55+","date":"2012-12-01","value":1.2},{"series":"Age 55+","date":"2013-02-01","value":1.2},{"series":"Age 55+","date":"2013-04-01","value":1.4},{"series":"Age 55+","date":"2013-07-01","value":1.25},{"series":"Age 55+","date":"2013-09-01","value":1.15},{"series":"Age 55+","date":"2013-12-01","value":1.0},{"series":"Age 55+","date":"2014-02-01","value":1.1},{"series":"Age 55+","date":"2014-05-01","value":1.05},{"series":"Age 55+","date":"2014-06-01","value":0.9},{"series":"Age 55+","date":"2014-08-01","value":1.1},{"series":"Age 55+","date":"2014-11-01","value":1.3},{"series":"Age 55+","date":"2014-12-01","value":1.4},{"series":"Age 55+","date":"2015-02-01","value":1.6},{"series":"Age 55+","date":"2015-04-01","value":1.8},{"series":"Age 55+","date":"2015-05-01","value":2.0},{"series":"Age 55+","date":"2015-07-01","value":1.9},{"series":"Age 55+","date":"2015-12-01","value":1.9},{"series":"Age 55+","date":"2016-02-01","value":1.7},{"series":"Age 55+","date":"2016-03-01","value":1.8},{"series":"Age 55+","date":"2016-05-01","value":1.9},{"series":"Age 55+","date":"2016-07-01","value":2.1},{"series":"Age 55+","date":"2016-09-01","value":2.2},{"series":"Age 55+","date":"2016-11-01","value":2.3},{"series":"Age 55+","date":"2017-01-01","value":2.3},{"series":"Age 55+","date":"2017-03-01","value":2.2},{"series":"Age 55+","date":"2017-05-01","value":2.1},{"series":"Age 55+","date":"2017-07-01","value":2.0},{"series":"Age 55+","date":"2017-11-01","value":2.0},{"series":"Age 55+","date":"2017-12-01","value":1.9},{"series":"Age 55+","date":"2018-02-01","value":1.9},{"series":"Age 55+","date":"2018-03-01","value":2.0},{"series":"Age 55+","date":"2018-07-01","value":2.0},{"series":"Age 55+","date":"2018-08-01","value":2.1},{"series":"Age 55+","date":"2018-10-01","value":2.0},{"series":"Age 55+","date":"2018-11-01","value":2.2},{"series":"Age 55+","date":"2019-01-01","value":2.3},{"series":"Age 55+","date":"2019-05-01","value":2.3},{"series":"Age 55+","date":"2019-07-01","value":2.5},{"series":"Age 55+","date":"2019-09-01","value":2.6},{"series":"Age 55+","date":"2019-11-01","value":2.5},{"series":"Age 55+","date":"2019-12-01","value":2.4},{"series":"Age 55+","date":"2020-02-01","value":2.5},{"series":"Age 55+","date":"2020-03-01","value":2.4},{"series":"Age 55+","date":"2020-04-01","value":2.6},{"series":"Age 55+","date":"2020-06-01","value":2.6},{"series":"Age 55+","date":"2020-07-01","value":2.5},{"series":"Age 55+","date":"2020-09-01","value":2.4},{"series":"Age 55+","date":"2020-11-01","value":2.3},{"series":"Age 55+","date":"2021-01-01","value":2.2},{"series":"Age 55+","date":"2021-02-01","value":2.2},{"series":"Age 55+","date":"2021-03-01","value":2.1},{"series":"Age 55+","date":"2021-05-01","value":1.8},{"series":"Age 55+","date":"2021-06-01","value":1.8},{"series":"Age 55+","date":"2021-07-01","value":1.9},{"series":"Age 55+","date":"2021-08-01","value":1.9},{"series":"Age 55+","date":"2021-09-01","value":2.0}
    ],
    "labels": [
      {"series":"Age 16-24","date":"2016-10-01","value":8.64,"text":"Age 16-24","size":12},
      {"series":"Age 16-24","date":"2021-09-10","value":10.09,"text":"9.8%","size":14},
      {"series":"Age 25-54","date":"2016-03-10","value":4.17,"text":"Age 25-54","size":12},
      {"series":"Age 25-54","date":"2022-06-22","value":4.0,"text":"3.7%","size":14},
      {"series":"Overall","date":"2022-06-22","value":3.51,"text":"3.6%","size":14},
      {"series":"Overall","date":"2020-01-25","value":3.22,"text":"Overall","size":12},
      {"series":"Age 55+","date":"2022-08-12","value":2.03,"text":"2.0%","size":14},
      {"series":"Age 55+","date":"2004-07-10","value":1.9,"text":"Age 55+","size":12}
    ]
  },
  "encoding": {
    "x": {
      "field": "date", "type": "temporal",
      "scale": {"type": "utc", "domain": [{"year": 1999, "month": 11, "date": 1, "utc": true}, {"year": 2022, "month": 1, "date": 1, "utc": true}]},
      "axis": {
        "title": null,
        "values": [
          {"year": 1999, "month": 12, "date": 31, "utc": true},
          {"year": 2001, "month": 12, "date": 31, "utc": true},
          {"year": 2003, "month": 12, "date": 31, "utc": true},
          {"year": 2005, "month": 12, "date": 31, "utc": true},
          {"year": 2007, "month": 12, "date": 31, "utc": true},
          {"year": 2009, "month": 12, "date": 31, "utc": true},
          {"year": 2011, "month": 12, "date": 31, "utc": true},
          {"year": 2013, "month": 12, "date": 31, "utc": true},
          {"year": 2015, "month": 12, "date": 31, "utc": true},
          {"year": 2017, "month": 12, "date": 31, "utc": true},
          {"year": 2019, "month": 12, "date": 31, "utc": true},
          {"year": 2021, "month": 12, "date": 31, "utc": true}
        ],
        "labelExpr": "utcFormat(datum.value, '%m/%d/%y')",
        "labelAngle": -45, "labelAlign": "right", "labelBaseline": "middle",
        "labelOverlap": false,
        "ticks": false, "domain": false, "grid": false,
        "labelColor": "#6b7079", "labelFontSize": 12, "labelPadding": 7, "labelFont": "Open Sans"
      }
    },
    "y": {
      "field": "value", "type": "quantitative",
      "scale": {"domain": [0, 10]},
      "axis": {
        "title": null,
        "values": [0, 1, 2, 3, 4, 5, 6, 7, 8, 9, 10],
        "labelExpr": "format(datum.value, '.1f') + '%'",
        "labelOverlap": false,
        "ticks": false, "domain": false, "grid": false,
        "labelColor": "#6b7079", "labelFontSize": 11.5, "labelPadding": 10, "labelFont": "Open Sans"
      }
    },
    "color": {
      "field": "series", "type": "nominal",
      "scale": {"domain": ["Age 16-24", "Age 25-54", "Overall", "Age 55+"], "range": ["#0033a0", "#22c3c9", "#ff7716", "#3c4753"]},
      "legend": null
    }
  },
  "layer": [
    {
      "data": {"name": "series"},
      "mark": {"type": "line", "strokeWidth": 2.6, "strokeJoin": "round"}
    },
    {
      "data": {"name": "labels"},
      "mark": {"type": "text", "fontWeight": "bold", "align": "center", "baseline": "middle", "font": "Open Sans"},
      "encoding": {
        "text": {"field": "text"},
        "size": {"field": "size", "type": "quantitative", "scale": null}
      }
    }
  ]
}
